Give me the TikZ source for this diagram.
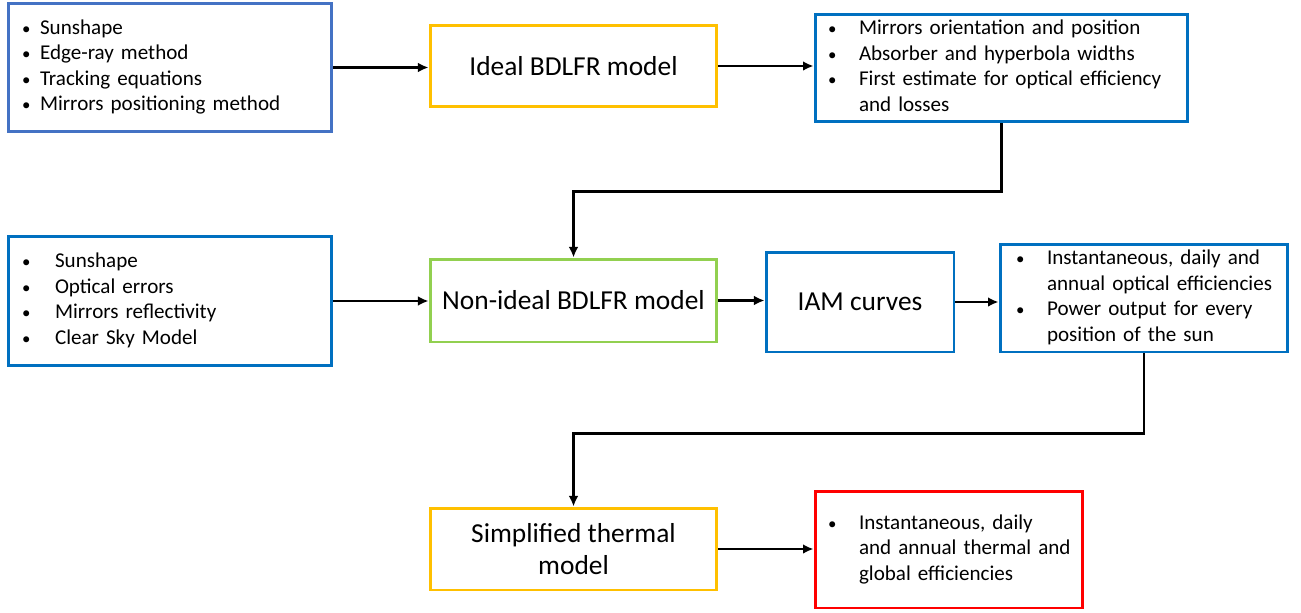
\documentclass[tikz,border=0pt]{standalone}
\usepackage{fontspec}
\setmainfont{Carlito}
\usetikzlibrary{arrows.meta}
\definecolor{boxblue}{HTML}{0070C0}
\definecolor{paleblue}{HTML}{4472C4}
\definecolor{boxyellow}{HTML}{FFC000}
\definecolor{boxgreen}{HTML}{92D050}
\definecolor{boxred}{HTML}{FF0000}
\newcommand{\itemlist}[2]{\begin{tabular}{@{}p{#1}@{}l@{}}#2\end{tabular}}
\newcommand{\bul}{\scalebox{0.8}{\textbullet}}
\tikzset{
  listbox/.style={draw=boxblue, line width=1.7pt, align=left, inner ysep=0pt,
    font=\fontsize{12}{14.5}\selectfont},
  modelbox/.style={draw=boxyellow, line width=1.7pt, align=center, inner sep=0pt,
    font=\fontsize{15.6}{18}\selectfont},
  flow/.style={line width=1.6pt, -{Latex[length=6pt,width=5.5pt]}}
}
\begin{document}
\begin{tikzpicture}[x=0.02cm,y=-0.02cm]
  \useasboundingbox (0,0) rectangle (1301,612);

  % optical part
  \node[listbox, draw=paleblue, inner xsep=0.28cm, text width=5.92cm,
    minimum width=6.48cm, minimum height=2.58cm] (inputs) at (170,67.5)
    {\itemlist{0.36cm}{\bul & Sunshape\\ \bul & Edge-ray method\\
     \bul & Tracking equations\\ \bul & Mirrors positioning method}};
  \node[modelbox, minimum width=5.74cm, minimum height=1.64cm] (ideal) at (573.5,66)
    {Ideal BDLFR model};
  \node[listbox, inner xsep=0.26cm, text width=6.94cm,
    minimum width=7.46cm, minimum height=2.16cm] (optout) at (1001.5,68)
    {\itemlist{0.62cm}{\bul & Mirrors orientation and position\\
     \bul & Absorber and hyperbola widths\\
     \bul & First estimate for optical efficiency\\ & and losses}};

  \node[listbox, inner xsep=0.28cm, text width=5.92cm,
    minimum width=6.48cm, minimum height=2.6cm] (nonin) at (170,301)
    {\itemlist{0.66cm}{\bul & Sunshape\\ \bul & Optical errors\\
     \bul & Mirrors reflectivity\\ \bul & Clear Sky Model}};
  \node[modelbox, draw=boxgreen, minimum width=5.74cm, minimum height=1.66cm]
    (nonideal) at (573.5,300.5) {Non-ideal BDLFR model};
  \node[modelbox, draw=boxblue, minimum width=3.76cm, minimum height=2cm]
    (iam) at (860,302) {IAM curves};
  \node[listbox, inner xsep=0.32cm, text width=5.12cm,
    minimum width=5.76cm, minimum height=2.16cm] (optres) at (1144,298)
    {\itemlist{0.62cm}{\bul & Instantaneous, daily and\\
     & annual optical efficiencies\\ \bul & Power output for every\\
     & position of the sun}};

  % thermal part
  \node[modelbox, minimum width=5.74cm, minimum height=1.64cm] (thermal)
    at (573.5,549) {Simplified thermal\\model};
  \node[listbox, draw=boxred, inner xsep=0.26cm, text width=4.84cm,
    minimum width=5.36cm, minimum height=2.34cm] (thermres) at (949,549.5)
    {\itemlist{0.62cm}{\bul & Instantaneous, daily\\
     & and annual thermal and\\ & global efficiencies}};

  % arrows
  \draw[flow] (inputs.east) -- (inputs.east -| ideal.west);
  \draw[flow] (ideal.east) -- (ideal.east -| optout.west);
  \draw[flow] (optout.south) -- ++(0,68) -| (nonideal.north);
  \draw[flow] (nonin.east) -- (nonin.east -| nonideal.west);
  \draw[flow] (nonideal.east) -- (nonideal.east -| iam.west);
  \draw[flow] (iam.east) -- (iam.east -| optres.west);
  \draw[flow] (optres.south) -- ++(0,80) -| (thermal.north);
  \draw[flow] (thermal.east) -- (thermal.east -| thermres.west);
\end{tikzpicture}
\end{document}
